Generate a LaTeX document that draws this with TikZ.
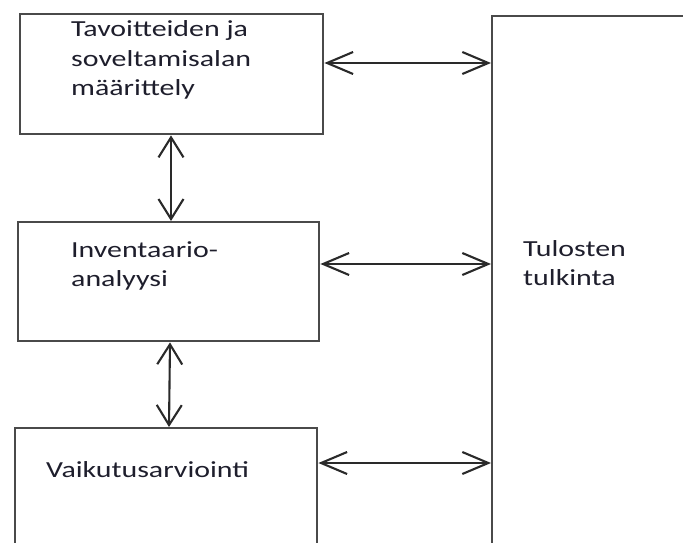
\documentclass[tikz,border=0pt]{standalone}
\usepackage{fontspec}
\setmainfont{Carlito}
\usetikzlibrary{arrows.meta}
\definecolor{boxgray}{HTML}{4A4A4A}
\definecolor{arrcol}{HTML}{2A2A2A}
\definecolor{txtcol}{HTML}{1E1E2C}
\newcommand{\stretchtext}[1]{\scalebox{1.3}[1]{\begin{tabular}[t]{@{}l@{}}#1\end{tabular}}}
\begin{document}
\begin{tikzpicture}[x=1pt,y=-1pt,
  boxst/.style={draw=boxgray, line width=2.4pt, rectangle, inner sep=0pt, anchor=north west},
  txt/.style={anchor=base west, inner sep=0pt, font=\fontsize{23}{29.5}\selectfont, text=txtcol},
  harr/.style={line width=2.1pt, draw=arrcol, {Straight Barb[length=26pt,width=22pt]}-{Straight Barb[length=26pt,width=22pt]}},
  varr/.style={line width=2.1pt, draw=arrcol, {Straight Barb[length=20pt,width=25pt]}-{Straight Barb[length=20pt,width=25pt]}}]
\useasboundingbox (0,0) rectangle (683,543);
\begin{scope}
\clip (0,0) rectangle (683,543);
% boxes
\node[boxst, minimum width=303pt, minimum height=120pt] (b1) at (19,13) {};
\node[boxst, minimum width=301pt, minimum height=119pt] (b2) at (17,221) {};
\node[boxst, minimum width=302pt, minimum height=140pt] (b3) at (14,427) {};
\node[boxst, minimum width=220pt, minimum height=560pt] (tul) at (491,15) {};
% texts
\node[txt] (t1) at (71,37) {\stretchtext{Tavoitteiden ja\\soveltamisalan\\määrittely}};
\node[txt] (t2) at (71,257) {\stretchtext{Inventaario-\\analyysi}};
\node[txt] (t3) at (46,477) {\stretchtext{Vaikutusarviointi}};
\node[txt] (t4) at (523,256) {\stretchtext{Tulosten\\tulkinta}};
% arrow levels
\coordinate (y1) at (0,63);
\coordinate (y2) at (0,264);
\coordinate (y3) at (0,463);
\coordinate (v1) at (171,0);
\coordinate (v2a) at (170,0);
\coordinate (v2b) at (169,0);
% connectors
\draw[harr] (b1.east |- y1) -- (tul.west |- y1);
\draw[harr] (b2.east |- y2) -- (tul.west |- y2);
\draw[harr] (b3.east |- y3) -- (tul.west |- y3);
\draw[varr] (b1.south -| v1) -- (b2.north -| v1);
\draw[varr] (b2.south -| v2a) -- (b3.north -| v2b);
\end{scope}
\end{tikzpicture}
\end{document}
